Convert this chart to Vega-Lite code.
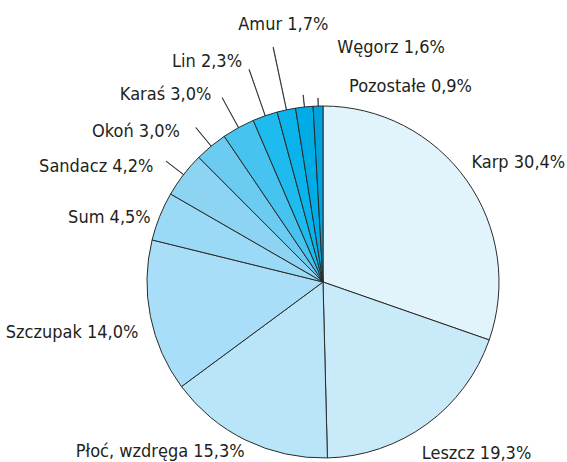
{
  "$schema": "https://vega.github.io/schema/vega-lite/v6.json",
  "width": 352,
  "height": 352,
  "autosize": {"type": "none"},
  "padding": {"left": 147, "top": 106, "right": 68, "bottom": 4},
  "background": "white",
  "config": {"view": {"stroke": null}, "text": {"font": "DejaVu Sans Condensed, sans-serif", "fontSize": 18, "fill": "#231f20", "baseline": "alphabetic", "radius": 176}},
  "data": {"values": [
    {"name": "Karp", "value": 30.4, "label": "Karp 30,4%"},
    {"name": "Leszcz", "value": 19.3, "label": "Leszcz 19,3%"},
    {"name": "Płoć", "value": 15.3, "label": "Płoć, wzdręga 15,3%"},
    {"name": "Szczupak", "value": 14.0, "label": "Szczupak 14,0%"},
    {"name": "Sum", "value": 4.5, "label": "Sum 4,5%"},
    {"name": "Sandacz", "value": 4.2, "label": "Sandacz 4,2%"},
    {"name": "Okoń", "value": 3.0, "label": "Okoń 3,0%"},
    {"name": "Karaś", "value": 3.0, "label": "Karaś 3,0%"},
    {"name": "Lin", "value": 2.3, "label": "Lin 2,3%"},
    {"name": "Amur", "value": 1.7, "label": "Amur 1,7%"},
    {"name": "Węgorz", "value": 1.6, "label": "Węgorz 1,6%"},
    {"name": "Pozostałe", "value": 0.9, "label": "Pozostałe 0,9%"}
  ]},
  "transform": [
    {"stack": "value", "groupby": [], "as": ["v0", "v1"]},
    {"calculate": "(datum.v0 + datum.v1) / 2", "as": "mid"},
    {"calculate": "(datum.v0 + datum.v1) / 2 + 0.03", "as": "mid2"}
  ],
  "layer": [
    {
      "mark": {"type": "arc", "radius": 176, "stroke": "#2b2b2b", "strokeWidth": 1},
      "encoding": {
        "theta": {"field": "v0", "type": "quantitative", "scale": {"domain": [0, 100.2]}},
        "theta2": {"field": "v1"},
        "color": {"field": "name", "type": "nominal", "legend": null,
          "scale": {"domain": ["Karp","Leszcz","Płoć","Szczupak","Sum","Sandacz","Okoń","Karaś","Lin","Amur","Węgorz","Pozostałe"],
                    "range": ["#e1f3fb","#c9eaf9","#b9e5f9","#a8def8","#9adaf6","#8dd4f3","#6ccbf0","#46c3ef","#1ebbee","#0ab4ea","#00ace6","#00a3dd"]}}
      }
    },
    {"transform": [{"filter": "datum.name == 'Sandacz'"}],
     "mark": {"type": "arc", "radius": 198, "radius2": 176, "fill": "#231f20", "stroke": "#231f20", "strokeWidth": 0.6},
     "encoding": {"theta": {"field": "mid", "type": "quantitative", "scale": {"domain": [0, 100.2]}}, "theta2": {"field": "mid2"}}},
    {"transform": [{"filter": "datum.name == 'Okoń'"}],
     "mark": {"type": "arc", "radius": 200, "radius2": 176, "fill": "#231f20", "stroke": "#231f20", "strokeWidth": 0.6},
     "encoding": {"theta": {"field": "mid", "type": "quantitative", "scale": {"domain": [0, 100.2]}}, "theta2": {"field": "mid2"}}},
    {"transform": [{"filter": "datum.name == 'Karaś'"}],
     "mark": {"type": "arc", "radius": 210, "radius2": 176, "fill": "#231f20", "stroke": "#231f20", "strokeWidth": 0.6},
     "encoding": {"theta": {"field": "mid", "type": "quantitative", "scale": {"domain": [0, 100.2]}}, "theta2": {"field": "mid2"}}},
    {"transform": [{"filter": "datum.name == 'Lin'"}],
     "mark": {"type": "arc", "radius": 225, "radius2": 176, "fill": "#231f20", "stroke": "#231f20", "strokeWidth": 0.6},
     "encoding": {"theta": {"field": "mid", "type": "quantitative", "scale": {"domain": [0, 100.2]}}, "theta2": {"field": "mid2"}}},
    {"transform": [{"filter": "datum.name == 'Amur'"}],
     "mark": {"type": "arc", "radius": 240, "radius2": 176, "fill": "#231f20", "stroke": "#231f20", "strokeWidth": 0.6},
     "encoding": {"theta": {"field": "mid", "type": "quantitative", "scale": {"domain": [0, 100.2]}}, "theta2": {"field": "mid2"}}},
    {"transform": [{"filter": "datum.name == 'Węgorz'"}],
     "mark": {"type": "arc", "radius": 188, "radius2": 176, "fill": "#231f20", "stroke": "#231f20", "strokeWidth": 0.6},
     "encoding": {"theta": {"field": "mid", "type": "quantitative", "scale": {"domain": [0, 100.2]}}, "theta2": {"field": "mid2"}}},
    {"transform": [{"filter": "datum.name == 'Pozostałe'"}],
     "mark": {"type": "arc", "radius": 184, "radius2": 176, "fill": "#231f20", "stroke": "#231f20", "strokeWidth": 0.6},
     "encoding": {"theta": {"field": "mid", "type": "quantitative", "scale": {"domain": [0, 100.2]}}, "theta2": {"field": "mid2"}}},
    {"transform": [{"filter": "datum.name == 'Karp'"}],
     "mark": {"type": "text", "dx": 5, "dy": -12, "align": "left"},
     "encoding": {"theta": {"field": "mid", "type": "quantitative", "scale": {"domain": [0, 100.2]}}, "text": {"field": "label"}}},
    {"transform": [{"filter": "datum.name == 'Leszcz'"}],
     "mark": {"type": "text", "dx": -5, "dy": 35, "align": "left"},
     "encoding": {"theta": {"field": "mid", "type": "quantitative", "scale": {"domain": [0, 100.2]}}, "text": {"field": "label"}}},
    {"transform": [{"filter": "datum.name == 'Płoć'"}],
     "mark": {"type": "text", "dx": -1, "dy": 17, "align": "right"},
     "encoding": {"theta": {"field": "mid", "type": "quantitative", "scale": {"domain": [0, 100.2]}}, "text": {"field": "label"}}},
    {"transform": [{"filter": "datum.name == 'Szczupak'"}],
     "mark": {"type": "text", "dx": -12, "dy": 21, "align": "right"},
     "encoding": {"theta": {"field": "mid", "type": "quantitative", "scale": {"domain": [0, 100.2]}}, "text": {"field": "label"}}},
    {"transform": [{"filter": "datum.name == 'Sum'"}],
     "mark": {"type": "text", "dx": -9, "dy": 7, "align": "right"},
     "encoding": {"theta": {"field": "mid", "type": "quantitative", "scale": {"domain": [0, 100.2]}}, "text": {"field": "label"}}},
    {"transform": [{"filter": "datum.name == 'Sandacz'"}],
     "mark": {"type": "text", "dx": -30, "dy": -3, "align": "right"},
     "encoding": {"theta": {"field": "mid", "type": "quantitative", "scale": {"domain": [0, 100.2]}}, "text": {"field": "label"}}},
    {"transform": [{"filter": "datum.name == 'Okoń'"}],
     "mark": {"type": "text", "dx": -31, "dy": -9.5, "align": "right"},
     "encoding": {"theta": {"field": "mid", "type": "quantitative", "scale": {"domain": [0, 100.2]}}, "text": {"field": "label"}}},
    {"transform": [{"filter": "datum.name == 'Karaś'"}],
     "mark": {"type": "text", "dx": -27, "dy": -28, "align": "right"},
     "encoding": {"theta": {"field": "mid", "type": "quantitative", "scale": {"domain": [0, 100.2]}}, "text": {"field": "label"}}},
    {"transform": [{"filter": "datum.name == 'Lin'"}],
     "mark": {"type": "text", "dx": -23, "dy": -49, "align": "right"},
     "encoding": {"theta": {"field": "mid", "type": "quantitative", "scale": {"domain": [0, 100.2]}}, "text": {"field": "label"}}},
    {"transform": [{"filter": "datum.name == 'Amur'"}],
     "mark": {"type": "text", "dx": -48, "dy": -80, "align": "left"},
     "encoding": {"theta": {"field": "mid", "type": "quantitative", "scale": {"domain": [0, 100.2]}}, "text": {"field": "label"}}},
    {"transform": [{"filter": "datum.name == 'Węgorz'"}],
     "mark": {"type": "text", "dx": 33, "dy": -54, "align": "left"},
     "encoding": {"theta": {"field": "mid", "type": "quantitative", "scale": {"domain": [0, 100.2]}}, "text": {"field": "label"}}},
    {"transform": [{"filter": "datum.name == 'Pozostałe'"}],
     "mark": {"type": "text", "dx": 31, "dy": -14, "align": "left"},
     "encoding": {"theta": {"field": "mid", "type": "quantitative", "scale": {"domain": [0, 100.2]}}, "text": {"field": "label"}}}
  ]
}
